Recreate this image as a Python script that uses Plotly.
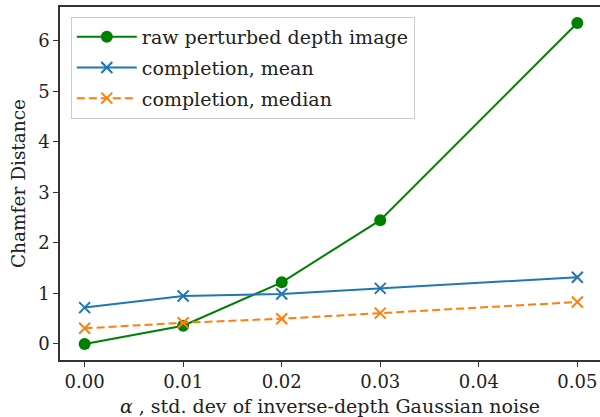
import plotly.graph_objects as go

alpha = [0.00, 0.01, 0.02, 0.03, 0.05]
raw_depth = [0.00, 0.36, 1.22, 2.45, 6.35]
comp_mean = [0.72, 0.95, 0.99, 1.10, 1.32]
comp_median = [0.31, 0.42, 0.50, 0.61, 0.83]
x_ticks = [0.00, 0.01, 0.02, 0.03, 0.04, 0.05]
y_ticks = [0, 1, 2, 3, 4, 5, 6]

FONT = "DejaVu Serif"
TXT = "#222222"
fig = go.Figure()
fig.add_trace(go.Scatter(x=alpha, y=raw_depth, mode="lines+markers", name="raw perturbed depth image",
                         legendgroup="a",
                         line=dict(color="#008000", width=2),
                         marker=dict(symbol="circle", size=12, color="#008000")))
fig.add_trace(go.Scatter(x=alpha, y=comp_mean, mode="lines+markers", name="completion, mean",
                         legendgroup="b",
                         line=dict(color="#1f77b4", width=2),
                         marker=dict(symbol="x-thin", size=11, line=dict(color="#1f77b4", width=2))))
fig.add_trace(go.Scatter(x=alpha, y=comp_median, mode="lines+markers", name="completion, median",
                         legendgroup="c",
                         line=dict(color="#ff7f0e", width=2, dash="8px,4px"),
                         marker=dict(symbol="x-thin", size=11, line=dict(color="#ff7f0e", width=2))))

axis_common = dict(showgrid=False, zeroline=False, showline=True, linecolor="#333333", linewidth=1.5,
                   ticks="outside", ticklen=5, tickwidth=1.2, tickcolor="#333333", automargin=False,
                   tickfont=dict(family=FONT, size=18, color=TXT))
fig.update_xaxes(range=[-0.0025, 0.0523], tickvals=x_ticks, tickformat=".2f", mirror=True,
                 title=dict(text="<i>α</i> , std. dev of inverse-depth Gaussian noise",
                            font=dict(family=FONT, size=19, color=TXT), standoff=8),
                 **axis_common)
fig.update_yaxes(range=[-0.317, 6.667], tickvals=y_ticks, mirror=False,
                 title=dict(text="Chamfer Distance", font=dict(family=FONT, size=18.5, color=TXT), standoff=8),
                 **axis_common)
fig.update_layout(width=600, height=417, margin=dict(l=60, r=0, t=7, b=57),
                  plot_bgcolor="white", paper_bgcolor="white",
                  font=dict(family=FONT, size=19, color=TXT),
                  legend=dict(x=0.02, y=0.972, xanchor="left", yanchor="top",
                              itemwidth=60, tracegroupgap=3,
                              bgcolor="rgba(255,255,255,0.8)", bordercolor="#cccccc", borderwidth=1,
                              font=dict(family=FONT, size=19, color=TXT)))
fig.write_html("out.html", config={"displayModeBar": False},
               post_script="document.body.style.margin='0';document.body.style.overflow='hidden';")
